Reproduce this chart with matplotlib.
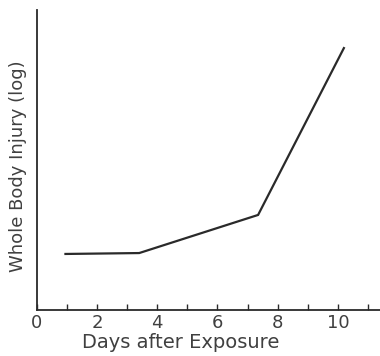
import matplotlib
matplotlib.use("Agg")
import matplotlib.pyplot as plt
from matplotlib.ticker import MultipleLocator

# 受照后天数与全身损伤(对数, 任意单位)
days = [0.95, 3.4, 7.35, 10.2]
injury = [1.87, 1.9, 3.17, 8.73]
major_ticks = [0, 2, 4, 6, 8, 10]

plt.rcParams["font.family"] = ["DejaVu Sans"]
ink = "#2a2a2a"
txt = "#404040"

fig = plt.figure(figsize=(3.8, 3.56), dpi=100)
ax = fig.add_axes([0.097, 0.129, 0.903, 0.843])

ax.plot(days, injury, color=ink, linewidth=1.6, solid_joinstyle="miter")

ax.set_xlim(0, 11.4)
ax.set_ylim(0, 10)
ax.set_xticks(major_ticks)
ax.xaxis.set_minor_locator(MultipleLocator(1))
ax.set_yticks([])
ax.tick_params(axis="x", which="both", direction="in", length=4, width=1,
               color=ink, labelcolor=txt, labelsize=13, pad=3)

for side in ("top", "right"):
    ax.spines[side].set_visible(False)
for side in ("left", "bottom"):
    ax.spines[side].set_color(ink)
    ax.spines[side].set_linewidth(1.3)

ax.set_xlabel("Days after Exposure", fontsize=14, color=txt)
ax.xaxis.set_label_coords(0.42, -0.075)
ax.set_ylabel("Whole Body Injury (log)", fontsize=13, color=txt)
ax.yaxis.set_label_coords(-0.028, 0.48)

fig.savefig("out.png", dpi=100)
